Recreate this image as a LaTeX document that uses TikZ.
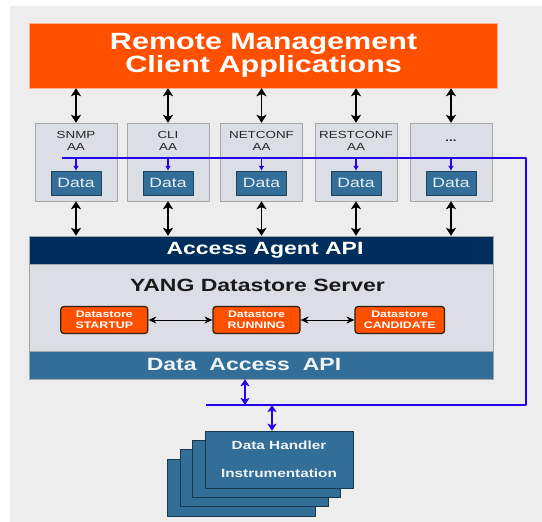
\documentclass[tikz,border=0pt]{standalone}
\usepackage{fontspec}
\setmainfont{Liberation Sans}[FakeStretch=1.3]
\usetikzlibrary{arrows.meta}
\definecolor{bggrey}{HTML}{EDEDED}
\definecolor{rmorange}{HTML}{FF5000}
\definecolor{aagrey}{HTML}{DCDEE6}
\definecolor{steel}{HTML}{336E99}
\definecolor{navy}{HTML}{002E5C}
\definecolor{wireblue}{HTML}{2200F0}
\begin{document}
\begin{tikzpicture}[x=1pt,y=-1pt,line join=round,>={Stealth[length=8pt,width=10pt,inset=2pt]},
  aabox/.style={draw=black!35,fill=aagrey,minimum width=82pt,minimum height=78pt,inner sep=0pt},
  aalabel/.style={text=black!85,align=center,font=\fontsize{10.3}{12}\selectfont},
  databox/.style={draw=steel!60!black,fill=steel,text=white!88!steel,minimum width=50pt,minimum height=24pt,inner sep=0pt,font=\fontsize{13.5}{14}\selectfont},
  bar/.style={draw=black!35,minimum width=463.5pt,inner sep=0pt},
  bigtext/.style={font=\bfseries\fontsize{17.7}{20}\selectfont},
  dsbox/.style={draw=black!75!brown,line width=1.2pt,fill=rmorange,rounded corners=3pt,text=white,align=center,minimum width=87pt,minimum height=27pt,inner sep=0pt,font=\bfseries\fontsize{9.5}{11}\selectfont},
  dhbox/.style={draw=steel!50!black,fill=steel,minimum width=148pt,minimum height=57pt,inner sep=0pt},
  dual/.style={<->,line width=1.8pt},
  wire/.style={draw=wireblue,line width=1.8pt}]
\useasboundingbox (0,0) rectangle (542,522);
\fill[bggrey] (10,6) rectangle (542,522);
% client applications
\node[fill=rmorange,draw=rmorange!45!white,minimum width=468pt,minimum height=65pt,text=white,align=center,font=\bfseries\fontsize{23.5}{21}\selectfont] (rmca) at (263.6,55.5) {Remote Management\\Client Applications};
% server block
\node[bar,fill=navy,minimum height=28pt] (agentapi) at (261.3,250) {};
\node[bigtext,text=white] (agentapilbl) at (265,250) {Access Agent API};
\node[bar,fill=aagrey,minimum height=87pt] (server) at (261.3,307.5) {};
\node[bigtext,text=black!90] (serverlbl) at (257.5,285) {YANG Datastore Server};
\node[bar,fill=steel,minimum height=28pt] (dataapi) at (261.3,365) {};
\node[bigtext,text=white!92!steel] (dataapilbl) at (244,364) {Data\ \ Access\ \ API};
\node[dsbox] (startup) at (104.3,320) {Datastore\\STARTUP};
\node[dsbox] (running) at (256.5,320) {Datastore\\RUNNING};
\node[dsbox,minimum width=89.5pt] (candidate) at (399.8,320) {Datastore\\CANDIDATE};
\draw[<->,line width=0.8pt,>={Stealth[length=8pt,width=7pt]}] (startup) -- (running);
\draw[<->,line width=0.8pt,>={Stealth[length=8pt,width=7pt]}] (running) -- (candidate);
% access agents
\foreach \n/\x/\t in {snmp/76/{SNMP\\AA},cli/168/{CLI\\AA},netconf/261.5/{NETCONF\\AA},restconf/356/{RESTCONF\\AA},more/451/{\bfseries...}}{
  \node[aabox] (\n) at (\x,162) {};
  \node[aalabel] (\n lbl) at (\x,141) {\t};
  \node[databox] (\n data) at (\x,183) {Data};
  \draw[dual] (rmca.south -| \n) -- (\n.north);
  \draw[dual] (\n.south) -- (\n.south |- agentapi.north);
}
% data handler wire
\coordinate (wstart) at (62,158);
\coordinate (wcorner) at (526,405);
\coordinate (wend) at (206,405);
\coordinate (tapapi) at (245,405);
\coordinate (tapdh) at (272,405);
\draw[wire] (wstart) -| (wcorner) -- (wend);
\foreach \n in {snmp,cli,netconf,restconf,more}
  \draw[wire,line width=1.4pt,->,>={Latex[length=5pt,width=6pt]}] (\n data.north |- wstart) -- (\n data.north);
% instrumentation stack
\foreach \i in {3,2,1}
  \node[dhbox] (dh\i) at (279-12.5*\i,459.5+9.3*\i) {};
\node[dhbox,text=white!92!steel,align=center,font=\bfseries\fontsize{11.8}{28}\selectfont] (dh0) at (279,459.5) {Data Handler\\Instrumentation};
\draw[wire,<->,>={Stealth[length=7pt,width=9pt,inset=1.5pt]}] (tapapi |- dataapi.south) -- (tapapi);
\draw[wire,<->,>={Stealth[length=7pt,width=9pt,inset=1.5pt]}] (tapdh) -- (tapdh |- dh0.north);
\end{tikzpicture}
\end{document}
